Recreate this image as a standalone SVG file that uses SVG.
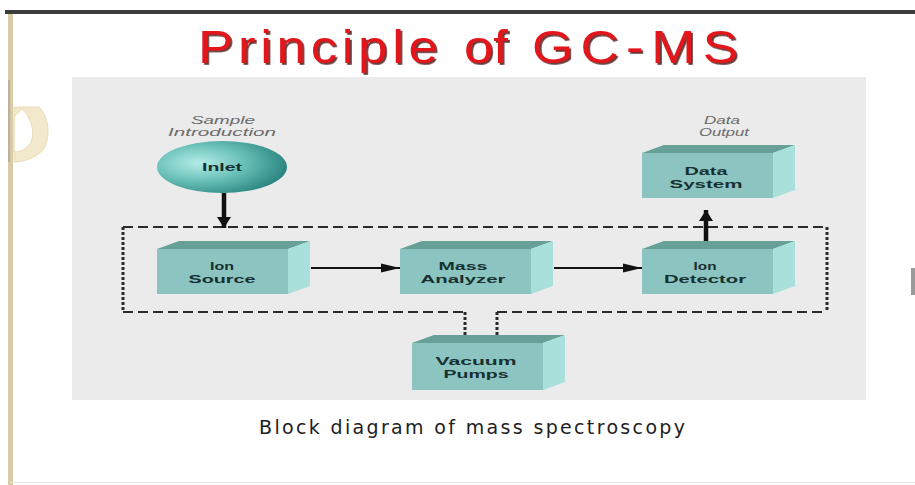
<svg xmlns="http://www.w3.org/2000/svg" width="915" height="485" viewBox="0 0 915 485">
  <defs>
    <radialGradient id="inletFill" cx="0.32" cy="0.42" r="0.75">
      <stop offset="0" stop-color="#b4ece6"/>
      <stop offset="0.45" stop-color="#6cc2bb"/>
      <stop offset="1" stop-color="#1f7c75"/>
    </radialGradient>
    <filter id="titleShadow" x="-5%" y="-20%" width="110%" height="140%">
      <feDropShadow dx="1.6" dy="1.8" stdDeviation="0.4" flood-color="#5a2020" flood-opacity="0.9"/>
    </filter>
    <marker id="headThin" markerWidth="20" markerHeight="12" refX="19" refY="6" orient="auto" markerUnits="userSpaceOnUse">
      <path d="M0,1.5 L19,6 L0,10.5 Z" fill="#111"/>
    </marker>
    <marker id="headThick" markerWidth="24" markerHeight="14" refX="11" refY="7" orient="auto" markerUnits="userSpaceOnUse">
      <path d="M0,0 L11,7 L0,14 Z" fill="#111"/>
    </marker>
  </defs>
  <style>
    .front { fill: #8cc4c2; }
    .top { fill: #66a096; }
    .side { fill: #a9e0dc; }
    .lbl { font-family: "Liberation Sans", "DejaVu Sans", sans-serif; font-weight: bold; font-size: 11.5px; fill: #173030; text-anchor: middle; }
    .note { font-family: "Liberation Sans", "DejaVu Sans", sans-serif; font-style: italic; font-size: 10px; fill: #6a6a6a; text-anchor: middle; }
    .ttl { font-family: "Liberation Sans", "DejaVu Sans", sans-serif; font-size: 46px; fill: #e3141b; }
    .dash { fill: none; stroke: #2b2b2b; stroke-width: 2; stroke-dasharray: 10 5; }
    .dot { fill: none; stroke: #2b2b2b; stroke-width: 3; stroke-dasharray: 3 2; }
    .thin { stroke: #111; stroke-width: 2; fill: none; }
    .thick { stroke: #111; stroke-width: 4.5; fill: none; }
  </style>

  <!-- page frame -->
  <rect x="0" y="0" width="915" height="485" fill="#ffffff"/>
  <rect x="5" y="10" width="910" height="4" fill="#3c3c3c"/>
  <rect x="8" y="14" width="5" height="471" fill="#d9cba6"/>
  <rect x="8" y="80" width="2" height="82" fill="#b9b2a0"/>
  <path d="M14,107 L39,107 C50,118 51,141 42,151 C35,158 24,162 14,162 Z M14,117 L22,109 C33,119 35,136 30,144 C25,150 19,152 14,152 Z" fill="#f2e8cc" fill-rule="evenodd" stroke="#e3d6b2" stroke-width="0.8"/>
  <rect x="911" y="268" width="4" height="27" fill="#9a9a9a"/>
  <line x1="10" y1="482.5" x2="915" y2="482.5" stroke="#e6e6e6" stroke-width="1"/>

  <!-- title: glyphs widened slightly, words placed individually -->
  <g id="title" class="ttl" filter="url(#titleShadow)" transform="translate(198,0) scale(1.15,1)">
    <text x="0" y="63" textLength="208.7" lengthAdjust="spacing">Principle</text>
    <text x="231.3" y="63" textLength="38.3" lengthAdjust="spacingAndGlyphs">of</text>
    <text x="290.4" y="63" textLength="179.1" lengthAdjust="spacing">GC-MS</text>
  </g>

  <!-- figure panel -->
  <rect x="72" y="77" width="794" height="323" fill="#ebebeb"/>

  <!-- vacuum enclosure and connectors -->
  <g id="connectors">
    <path class="dash" d="M123,227 L827,227"/>
    <path class="dot" d="M123,227 L123,312"/>
    <path class="dot" d="M827,227 L827,312"/>
    <path class="dash" d="M123,312 L465,312"/>
    <path class="dash" d="M497,312 L827,312"/>
    <path class="dot" d="M465,312 L465,340"/>
    <path class="dot" d="M497,312 L497,340"/>

    <line class="thick" x1="224" y1="193" x2="224" y2="228" marker-end="url(#headThick)"/>
    <line class="thin" x1="311" y1="268" x2="400" y2="268" marker-end="url(#headThin)"/>
    <line class="thin" x1="554" y1="268" x2="642" y2="268" marker-end="url(#headThin)"/>
    <line class="thick" x1="706" y1="241" x2="706" y2="210" marker-end="url(#headThick)"/>
  </g>

  <!-- sample inlet -->
  <g id="inlet">
    <text class="note" x="223" y="124" textLength="64" lengthAdjust="spacingAndGlyphs">Sample</text>
    <text class="note" x="222" y="136" textLength="108" lengthAdjust="spacingAndGlyphs">Introduction</text>
    <ellipse cx="222" cy="167" rx="65" ry="26" fill="url(#inletFill)"/>
    <text class="lbl" x="222" y="171" textLength="40" lengthAdjust="spacingAndGlyphs">Inlet</text>
  </g>

  <!-- ion source -->
  <g id="ion-source">
    <polygon class="top" points="157,249 179,241 310,241 288,249"/>
    <polygon class="side" points="288,249 310,241 310,286 288,294"/>
    <rect class="front" x="157" y="249" width="131" height="45"/>
    <text class="lbl" x="222" y="270" textLength="24" lengthAdjust="spacingAndGlyphs">Ion</text>
    <text class="lbl" x="222" y="282.5" textLength="67" lengthAdjust="spacingAndGlyphs">Source</text>
  </g>

  <!-- mass analyzer -->
  <g id="mass-analyzer">
    <polygon class="top" points="400,249 422,241 553,241 531,249"/>
    <polygon class="side" points="531,249 553,241 553,286 531,294"/>
    <rect class="front" x="400" y="249" width="131" height="45"/>
    <text class="lbl" x="463" y="270" textLength="49" lengthAdjust="spacingAndGlyphs">Mass</text>
    <text class="lbl" x="463" y="282.5" textLength="85" lengthAdjust="spacingAndGlyphs">Analyzer</text>
  </g>

  <!-- ion detector -->
  <g id="ion-detector">
    <polygon class="top" points="642,249 664,241 795,241 773,249"/>
    <polygon class="side" points="773,249 795,241 795,286 773,294"/>
    <rect class="front" x="642" y="249" width="131" height="45"/>
    <text class="lbl" x="705" y="270" textLength="23" lengthAdjust="spacingAndGlyphs">Ion</text>
    <text class="lbl" x="705" y="282.5" textLength="82" lengthAdjust="spacingAndGlyphs">Detector</text>
  </g>

  <!-- data system -->
  <g id="data-system">
    <text class="note" x="722" y="124" textLength="36" lengthAdjust="spacingAndGlyphs">Data</text>
    <text class="note" x="724" y="136" textLength="50" lengthAdjust="spacingAndGlyphs">Output</text>
    <polygon class="top" points="642,153 664,145 795,145 773,153"/>
    <polygon class="side" points="773,153 795,145 795,190 773,198"/>
    <rect class="front" x="642" y="153" width="131" height="45"/>
    <text class="lbl" x="706" y="175" textLength="43" lengthAdjust="spacingAndGlyphs">Data</text>
    <text class="lbl" x="706" y="187.5" textLength="73" lengthAdjust="spacingAndGlyphs">System</text>
  </g>

  <!-- vacuum pumps -->
  <g id="vacuum-pumps">
    <polygon class="top" points="412,343 434,335 565,335 543,343"/>
    <polygon class="side" points="543,343 565,335 565,382 543,390"/>
    <rect class="front" x="412" y="343" width="131" height="47"/>
    <text class="lbl" x="476" y="365" textLength="81" lengthAdjust="spacingAndGlyphs">Vacuum</text>
    <text class="lbl" x="476" y="377.5" textLength="65" lengthAdjust="spacingAndGlyphs">Pumps</text>
  </g>

  <!-- caption -->
  <text id="caption" x="259" y="434" font-family="DejaVu Sans, Liberation Sans, sans-serif" font-size="19" fill="#1e1e1e" textLength="426" lengthAdjust="spacing">Block diagram of mass spectroscopy</text>
</svg>
